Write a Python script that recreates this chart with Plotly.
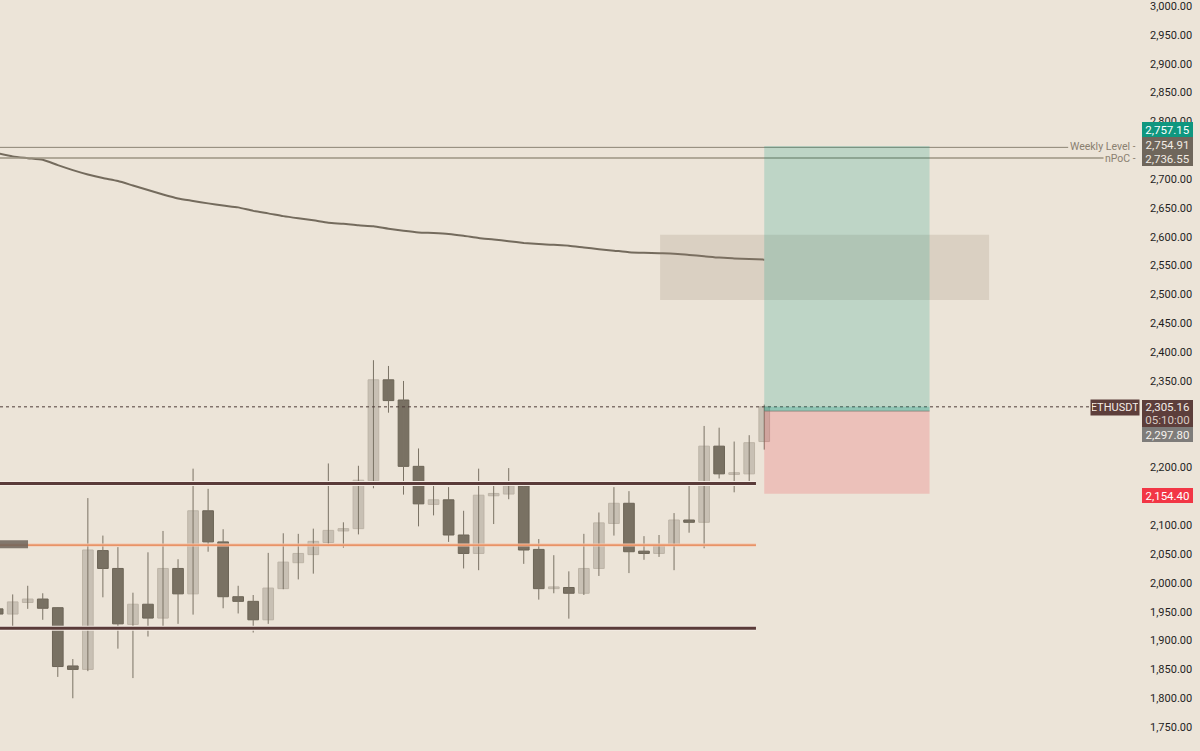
import plotly.graph_objects as go

# ---------------- data ----------------
candle_idx = list(range(52))
opens  = [1955, 1946, 1966, 1972, 1957, 1856, 1850, 2056, 2025, 1928, 1963, 1939, 2025, 1981, 2125, 2071, 1976, 1968,
          1936, 1990, 2035, 2049, 2070, 2090, 2094, 2177, 2352, 2317, 2202, 2136, 2144, 2083, 2051, 2151, 2154, 2168,
          2058, 1990, 1992, 1982, 2025, 2103, 2138, 2055, 2051, 2066, 2109, 2105, 2237, 2188, 2189, 2245]
highs  = [1962, 1980, 1995, 1982, 1958, 1868, 2147, 2082, 2062, 1983, 2053, 2090, 2041, 2198, 2163, 2093, 1995, 1979,
          2052, 2086, 2085, 2094, 2207, 2105, 2203, 2386, 2376, 2350, 2233, 2176, 2166, 2125, 2198, 2172, 2199, 2170,
          2076, 2048, 2020, 2085, 2122, 2166, 2159, 2081, 2083, 2121, 2171, 2272, 2269, 2245, 2256, 2309]
lows   = [1940, 1923, 1955, 1936, 1837, 1800, 1847, 1975, 1886, 1835, 1907, 1923, 1929, 1945, 2054, 1956, 1947, 1914,
          1929, 1989, 2006, 2016, 2068, 2061, 2084, 2164, 2295, 2153, 2098, 2117, 2071, 2025, 2022, 2102, 2145, 2033,
          1971, 1982, 1938, 1979, 2012, 2082, 2017, 2040, 2045, 2022, 2087, 2060, 2181, 2157, 2173, 2231]
closes = [1946, 1967, 1972, 1956, 1855, 1850, 2057, 2025, 1929, 1963, 1939, 2025, 1981, 2125, 2071, 1976, 1968, 1936,
          1991, 2036, 2051, 2072, 2091, 2094, 2178, 2352, 2316, 2202, 2137, 2144, 2083, 2051, 2152, 2155, 2168, 2057,
          1990, 1993, 1982, 2025, 2104, 2138, 2054, 2051, 2064, 2109, 2105, 2237, 2189, 2190, 2243, 2305.16]
ma_values = [2744.8, 2739.3, 2736.2, 2733.3, 2724.1, 2715.5, 2707.9, 2701.7, 2696.6, 2688.8, 2681.0, 2673.3, 2666.4,
             2662.1, 2657.8, 2654.0, 2650.9, 2644.8, 2640.5, 2635.7, 2631.9, 2628.4, 2624.1, 2622.4, 2619.8, 2618.1,
             2613.8, 2610.3, 2607.4, 2606.4, 2604.8, 2601.7, 2597.9, 2595.2, 2592.2, 2589.3, 2587.2, 2585.9, 2584.5,
             2581.4, 2578.4, 2575.9, 2573.3, 2572.1, 2571.4, 2570.7, 2568.4, 2566.2, 2563.8, 2562.4, 2561.2, 2560.3]

# price-scale ticks visible in the reference (others are hidden behind price labels)
tick_values = [3000, 2950, 2900, 2850, 2800, 2700, 2650, 2600, 2550, 2500, 2450, 2400, 2350,
               2200, 2100, 2050, 2000, 1950, 1900, 1850, 1800, 1750]

support_levels = [2172.4, 1921.2]
orange_level = 2065.5
level_span = [-1, 50.45]

weekly_level = 2754.91
npoc_level = 2736.55
last_price = 2305.16
countdown = "05:10:00"

pos_span = [51, 62]
target_price = 2757.15
entry_price = 2297.80
stop_price = 2154.40

zone_span = [44.07, 65.96]
zone_prices = [2490.2, 2603.4]
left_box_span = [-1, 2.02]
left_box_prices = [2060.0, 2074.1]

x_range = [0.155, 76.0]
y_range = [1708.6, 3003.4]

# ---------------- style ----------------
BG = "#ece4d8"
LIGHT = "#c8c0b4"
DARK = "#797163"
WICK = "#7a7264"
FONT = "Roboto"

fig = go.Figure()

# wicks
for up in (True, False):
    xs, ys = [], []
    for i, o, h, l, c in zip(candle_idx, opens, highs, lows, closes):
        if (c >= o) == up:
            xs += [i, i, None]
            ys += [l, h, None]
    fig.add_trace(go.Scatter(x=xs, y=ys, mode="lines", line=dict(color=WICK, width=1),
                             hoverinfo="skip", showlegend=False))

# bodies
base = [min(o, c) for o, c in zip(opens, closes)]
height = [max(abs(c - o), 3) for o, c in zip(opens, closes)]
cols = [LIGHT if c >= o else DARK for o, c in zip(opens, closes)]
lcols = ["#bdb4a7" if c >= o else "#6c6456" for o, c in zip(opens, closes)]
fig.add_trace(go.Bar(x=candle_idx, y=height, base=base, width=0.71,
                     marker=dict(color=cols, line=dict(color=lcols, width=1)),
                     hoverinfo="skip", showlegend=False))

# moving average
fig.add_trace(go.Scatter(x=candle_idx, y=ma_values, mode="lines",
                         line=dict(color="#746b5d", width=2, shape="spline", smoothing=0.6),
                         hoverinfo="skip", showlegend=False))

# support levels (halo + dark line)
for p in support_levels:
    fig.add_trace(go.Scatter(x=level_span, y=[p, p], mode="lines",
                             line=dict(color="#f4ece4", width=5), hoverinfo="skip", showlegend=False))
    fig.add_trace(go.Scatter(x=level_span, y=[p, p], mode="lines",
                             line=dict(color="#5a3b39", width=3), hoverinfo="skip", showlegend=False))
fig.add_trace(go.Scatter(x=level_span, y=[orange_level, orange_level], mode="lines",
                         line=dict(color="#f3c6ae", width=3), hoverinfo="skip", showlegend=False))
fig.add_trace(go.Scatter(x=level_span, y=[orange_level, orange_level], mode="lines",
                         line=dict(color="#e5824f", width=1.2), hoverinfo="skip", showlegend=False))

# last price dotted line
fig.add_shape(type="line", xref="paper", x0=0, x1=1, yref="y", y0=last_price, y1=last_price,
              line=dict(color="#4e3d38", width=1, dash="dot"), layer="above")

# weekly / npoc lines
fig.add_shape(type="line", xref="paper", x0=0, x1=0.937, yref="y", y0=weekly_level, y1=weekly_level,
              line=dict(color="#8c8374", width=1), layer="above")
fig.add_shape(type="line", xref="paper", x0=0, x1=0.968, yref="y", y0=npoc_level, y1=npoc_level,
              line=dict(color="#9d9483", width=1.6), layer="above")

# left small gray box
fig.add_shape(type="rect", x0=left_box_span[0], x1=left_box_span[1], y0=left_box_prices[0], y1=left_box_prices[1],
              fillcolor="rgba(110,100,90,0.85)", line=dict(width=0), layer="above")

# gray zone
fig.add_shape(type="rect", x0=zone_span[0], x1=zone_span[1], y0=zone_prices[0], y1=zone_prices[1],
              fillcolor="rgba(150,128,108,0.2)", line=dict(width=0), layer="above")

# position tool
fig.add_shape(type="rect", x0=pos_span[0], x1=pos_span[1], y0=entry_price, y1=target_price,
              fillcolor="rgba(8,153,129,0.2)", line=dict(width=0), layer="above")
fig.add_shape(type="rect", x0=pos_span[0], x1=pos_span[1], y0=stop_price, y1=entry_price,
              fillcolor="rgba(242,54,69,0.2)", line=dict(width=0), layer="above")
fig.add_shape(type="rect", x0=pos_span[0], x1=pos_span[1], y0=entry_price, y1=last_price,
              fillcolor="rgba(8,153,129,0.25)", line=dict(width=0), layer="above")
fig.add_shape(type="line", x0=pos_span[0], x1=pos_span[1], y0=entry_price, y1=entry_price,
              line=dict(color="rgba(120,120,110,0.7)", width=1), layer="above")

# ---------------- labels ----------------
def price_label(price, text, bg, fg, yshift, h=13):
    fig.add_annotation(xref="paper", x=1, xanchor="left", xshift=2, yref="y", y=price, yshift=yshift,
                       text=text, showarrow=False, bgcolor=bg, borderpad=1, borderwidth=0,
                       width=49, height=h, align="center",
                       font=dict(family=FONT, size=11.5, color=fg))

price_label(target_price, f"{target_price:,.2f}", "#0f977f", "#ffffff", 17)
price_label(weekly_level, f"{weekly_level:,.2f}", "#6f665b", "#f1ebe3", 3.3)
price_label(npoc_level, f"{npoc_level:,.2f}", "#6f665b", "#f1ebe3", -1)
price_label(last_price, f"{last_price:,.2f}", "#5d3e3b", "#f3ece6", -0.5, h=12)
price_label(last_price, countdown, "#5d3e3b", "#d9cbc4", -13.5, h=12)
price_label(entry_price, f"{entry_price:,.2f}", "#7e7c7a", "#f5f2ee", -23.2)
price_label(stop_price, f"{stop_price:,.2f}", "#f23645", "#ffffff", -1.8)

fig.add_annotation(xref="paper", x=1, xanchor="right", xshift=0, yref="y", y=last_price, yshift=-0.5,
                   text="ETHUSDT", showarrow=False, bgcolor="#5d3e3b", borderpad=1, width=46, height=13,
                   font=dict(family=FONT, size=11, color="#f3ece6"))

for lvl, name, ys in ((weekly_level, "Weekly Level -", 1), (npoc_level, "nPoC -", -1)):
    fig.add_annotation(xref="paper", x=1, xanchor="right", xshift=-3, yref="y", y=lvl, yshift=ys,
                       text=name, showarrow=False, borderpad=0, height=11,
                       font=dict(family=FONT, size=10.5, color="#8a8070"))

fig.update_layout(
    width=1200, height=751,
    margin=dict(l=0, r=60, t=0, b=0),
    paper_bgcolor=BG, plot_bgcolor=BG,
    showlegend=False, barmode="overlay", hovermode=False,
    xaxis=dict(range=x_range, visible=False, fixedrange=True),
    yaxis=dict(range=y_range, side="right", tickmode="array", tickvals=tick_values, tickformat=",.2f",
               showgrid=False, zeroline=False, showline=False, ticks="",
               ticklabelstandoff=9, ticklabeloverflow="allow",
               tickfont=dict(family=FONT, size=11, color="#1f1f1f"), fixedrange=True),
)

fig.write_html("out.html", config={"displayModeBar": False},
               post_script="document.body.style.margin='0';document.body.style.overflow='hidden';")
